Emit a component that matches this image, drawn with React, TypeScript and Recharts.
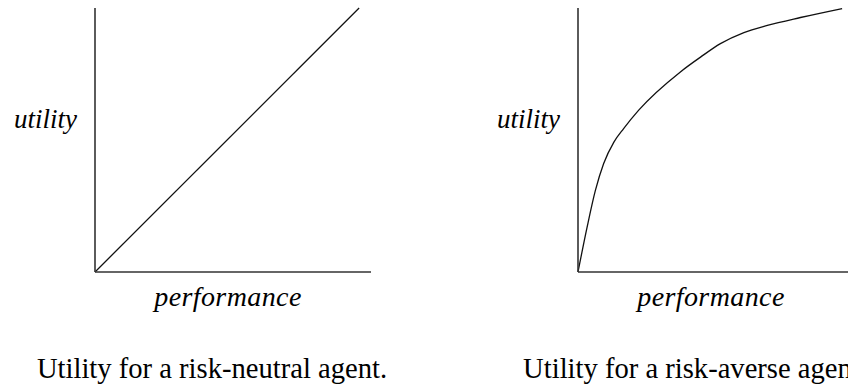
import { LineChart, Line, XAxis, YAxis, Label } from "recharts";

// performance (x) and utility (y), both on a 0-100 scale
const neutralPerformance = [0, 95.7];
const neutralUtility = [0, 100];

const aversePerformance = [0, 3.3, 6.3, 9.3, 13.0, 16.6, 22.0, 37.1, 44.4, 51.6, 60.1, 68.6, 80.6, 95.7];
const averseUtility = [0, 17.0, 30.9, 41.1, 49.2, 54.4, 61.3, 75.8, 81.4, 86.5, 90.7, 93.4, 96.4, 99.8];

const captions = ["Utility for a risk-neutral agent.", "Utility for a risk-averse agent."];
const xLabel = "performance";
const yLabel = "utility";

const toRows = (xs: number[], ys: number[]) => xs.map((x, i) => ({ x, y: ys[i] }));

const serif = "'Liberation Serif', serif";

function Panel({ data, caption }: { data: { x: number; y: number }[]; caption: string }) {
  return (
    <LineChart
      width={400}
      height={385}
      data={data}
      margin={{ top: 8, right: 29, bottom: 112, left: 94 }}
      style={{ fontFamily: serif }}
    >
      <XAxis
        type="number"
        dataKey="x"
        domain={[0, 100]}
        height={1}
        tick={false}
        tickLine={false}
        axisLine={{ stroke: "#333", strokeWidth: 1.6 }}
      >
        <Label
          value={xLabel}
          position="bottom"
          offset={13}
          dx={-5}
          fontFamily={serif}
          fontStyle="italic"
          fontSize={28}
          letterSpacing={0.4}
          fill="#000"
        />
        <Label
          value={caption}
          position="bottom"
          offset={85}
          dx={-21}
          fontFamily={serif}
          fontSize={28.6}
          fill="#000"
        />
      </XAxis>
      <YAxis
        type="number"
        domain={[0, 100]}
        width={1}
        tick={false}
        tickLine={false}
        axisLine={{ stroke: "#333", strokeWidth: 1.6 }}
      >
        <Label
          value={yLabel}
          position="left"
          offset={17}
          dy={-22}
          fontFamily={serif}
          fontStyle="italic"
          fontSize={27}
          fill="#000"
        />
      </YAxis>
      <Line
        type="monotone"
        dataKey="y"
        stroke="#111"
        strokeWidth={1.3}
        dot={false}
        isAnimationActive={false}
      />
    </LineChart>
  );
}

export default function App() {
  return (
    <div
      style={{
        position: "absolute",
        left: 0,
        top: 0,
        width: 848,
        height: 385,
        overflow: "hidden",
        background: "#fff",
        fontFamily: serif,
      }}
    >
      <div style={{ position: "absolute", left: 0, top: 0 }}>
        <Panel data={toRows(neutralPerformance, neutralUtility)} caption={captions[0]} />
      </div>
      <div style={{ position: "absolute", left: 483, top: 0 }}>
        <Panel data={toRows(aversePerformance, averseUtility)} caption={captions[1]} />
      </div>
    </div>
  );
}
